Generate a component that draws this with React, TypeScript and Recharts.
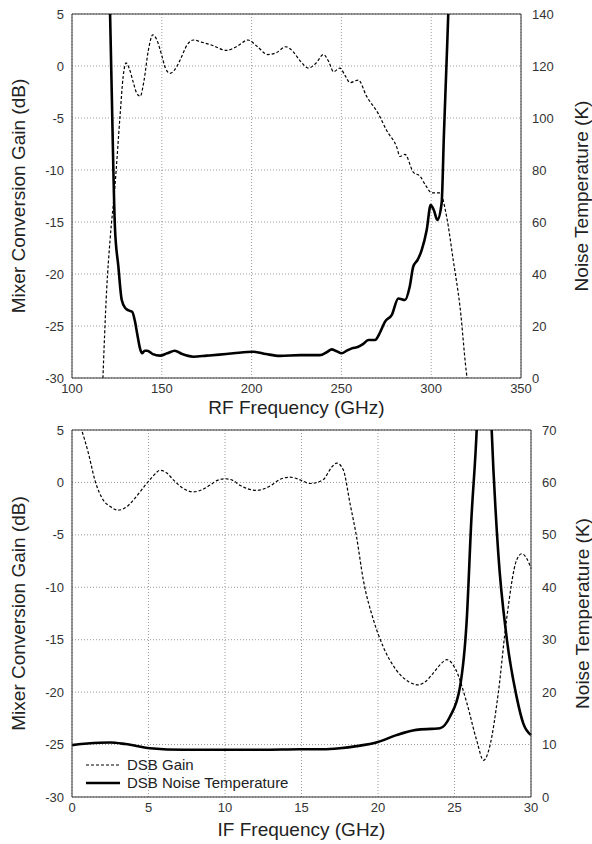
import React from 'react';
import { LineChart, Line, XAxis, YAxis, CartesianGrid, ReferenceLine, Label } from 'recharts';

// RF sweep (top panel)
const rfGainFreq = [117, 119.3, 121.2, 123.9, 126.7, 128.5, 130.1, 132, 134, 136, 138, 140, 142.5, 145, 147, 150, 152, 154.6, 157, 160, 164, 167.5, 172, 178, 186, 192, 198, 203, 209, 214, 219, 223, 227, 231.6, 236, 240, 243, 245.6, 249.2, 252, 254.8, 259.4, 264, 270.6, 275.2, 280.8, 282.6, 285.4, 290, 293.8, 297, 300.3, 304.9, 308.6, 312.3, 316, 320, 321];
const rfGainDb = [-31, -21.5, -16.7, -11.6, -4.9, -1, 0.3, -0.3, -1.5, -2.6, -2.9, -1.5, 1.5, 3.0, 2.6, 1.0, -0.2, -0.7, -0.4, 0.5, 2.0, 2.5, 2.3, 2.0, 1.5, 1.9, 2.5, 1.9, 1.1, 1.3, 1.85, 1.4, 0.5, -0.2, 0.3, 1.1, 0.4, -0.55, -0.2, -0.9, -1.6, -1.35, -2.9, -4.6, -6.2, -7.8, -8.7, -8.5, -10.2, -10.6, -11.5, -12.2, -12.2, -14.5, -18.7, -23.1, -30, -31];

const rfNoiseFreq = [119.5, 121.2, 123, 123.9, 125.8, 127.7, 129.8, 131.5, 133.5, 135, 136.3, 138, 139, 140.5, 141.9, 145, 149, 153, 157.3, 161, 167.5, 175, 182, 189.8, 200.9, 208, 215.8, 227, 238, 242, 244.6, 247, 250.2, 253, 255.8, 259.4, 262, 265, 268.7, 271.5, 274.3, 278, 281.7, 285.4, 288, 290, 292.5, 294.7, 297.5, 299.7, 301.5, 303.4, 305.8, 307.1, 308.6, 309.5, 310.5];
const rfNoiseK = [170, 140, 81, 58, 43, 30, 26.8, 26, 25.5, 22, 17, 11, 9.5, 10.5, 10.5, 9.2, 8.6, 9.5, 10.5, 9.3, 8.2, 8.6, 9.0, 9.5, 10.1, 9.2, 8.5, 8.8, 8.8, 10, 11, 10.4, 9.5, 10.5, 11.4, 12, 13, 14.6, 14.6, 17.5, 21.7, 24.2, 30.6, 30, 35, 42.8, 45.5, 49.2, 56.9, 66.5, 64.5, 60.8, 67.2, 94.1, 122.3, 140, 165];

// IF sweep (bottom panel)
const ifGainFreq = [0, 0.63, 1.07, 1.5, 2.05, 2.5, 3.03, 3.5, 4.0, 4.5, 4.88, 5.3, 5.75, 6.2, 6.62, 7.2, 7.93, 8.5, 9.02, 9.5, 10, 10.5, 11, 12.07, 13, 13.6, 14.25, 14.9, 15.56, 16.4, 17, 17.3, 17.73, 18.17, 18.6, 19.04, 19.7, 20.35, 21.2, 22, 22.63, 23.1, 23.6, 24.05, 24.5, 25.1, 25.8, 26.45, 26.9, 27.3, 27.86, 28.4, 29.06, 29.4, 29.7, 30];
const ifGainDb = [7.5, 5, 2.8, 0.2, -1.7, -2.3, -2.65, -2.4, -1.7, -0.8, -0.1, 0.6, 1.15, 0.9, 0.25, -0.5, -0.9, -0.7, -0.25, 0.2, 0.35, 0.2, -0.3, -0.75, -0.3, 0.3, 0.5, 0.25, -0.1, 0.25, 1.5, 1.85, 1.2, -2.0, -5.2, -9.3, -13.1, -15.7, -17.9, -19, -19.3, -19, -18.2, -17.4, -16.9, -17.9, -21, -24.6, -26.5, -25.2, -20.1, -13.1, -7.4, -6.8, -7.2, -8.2];

const ifNoiseFreq = [0, 1, 2.5, 3.5, 5.1, 7.3, 10, 12.5, 14.9, 16.4, 17.5, 18.6, 20, 21.2, 22.5, 23.5, 24.05, 24.7, 25.36, 25.8, 26.1, 26.45, 26.7, 27, 27.2, 27.43, 27.86, 28.4, 29.06, 29.5, 30];
const ifNoiseK = [9.9, 10.2, 10.4, 10.1, 9.3, 9.0, 9.0, 9.0, 9.1, 9.1, 9.3, 9.7, 10.5, 11.8, 12.8, 13.0, 13.1, 15.3, 21, 33.8, 52.8, 70, 90, 105, 90, 70, 46.5, 30.6, 19.1, 14, 11.8];

const rfTicks = [100, 150, 200, 250, 300, 350];
const ifTicks = [0, 5, 10, 15, 20, 25, 30];
const gainTicks = [-30, -25, -20, -15, -10, -5, 0, 5];
const rfNoiseTicks = [0, 20, 40, 60, 80, 100, 120, 140];
const ifNoiseTicks = [0, 10, 20, 30, 40, 50, 60, 70];

const zip = (fs: number[], vs: number[]) => fs.map((f, i) => ({ f, v: vs[i] }));

const FONT = '"Liberation Sans", Arial, sans-serif';
const INK = '#222';
const tickStyle = { fontSize: 13, fill: '#333', fontFamily: FONT };

const vLabel = (text: string, x: number) => (props: any) => {
    const vb = props.viewBox;
    const cy = vb.y + vb.height / 2;
    return (
        <text transform={`translate(${x}, ${cy}) rotate(-90)`} textAnchor="middle" dominantBaseline="central"
            style={{ fontSize: 19, fill: INK, fontFamily: FONT }}>{text}</text>
    );
};

const hLabel = (text: string, y: number) => (props: any) => {
    const vb = props.viewBox;
    return (
        <text x={vb.x + vb.width / 2} y={y} textAnchor="middle" style={{ fontSize: 19, fill: INK, fontFamily: FONT }}>{text}</text>
    );
};

const App = () => {
    const rfGain = zip(rfGainFreq, rfGainDb);
    const rfNoise = zip(rfNoiseFreq, rfNoiseK);
    const ifGain = zip(ifGainFreq, ifGainDb);
    const ifNoise = zip(ifNoiseFreq, ifNoiseK);

    return (
        <div style={{ position: 'absolute', left: 0, top: 0, width: 592, height: 844, background: '#fff', fontFamily: FONT }}>
            {/* RF frequency panel */}
            <div style={{ position: 'absolute', left: 0, top: 0 }}>
                <LineChart width={592} height={420} margin={{ top: 14, right: 0, bottom: 0, left: 0 }}>
                    <CartesianGrid yAxisId="left" strokeDasharray="1 2" stroke="#999" />
                    <XAxis dataKey="f" type="number" domain={[100, 350]} ticks={rfTicks} height={42}
                        tickLine={false} tickSize={4} axisLine={{ stroke: '#333' }} tick={tickStyle} allowDuplicatedCategory={false}>
                        <Label content={hLabel('RF Frequency (GHz)', 414)} />
                    </XAxis>
                    <YAxis yAxisId="left" domain={[-30, 5]} ticks={gainTicks} width={72} allowDataOverflow
                        tickLine={false} axisLine={{ stroke: '#333' }} tick={tickStyle}>
                        <Label content={vLabel('Mixer Conversion Gain (dB)', 18)} />
                    </YAxis>
                    <YAxis yAxisId="right" orientation="right" domain={[0, 140]} ticks={rfNoiseTicks} width={71} allowDataOverflow
                        tickLine={false} tickMargin={5} axisLine={{ stroke: '#333' }} tick={tickStyle}>
                        <Label content={vLabel('Noise Temperature (K)', 581)} />
                    </YAxis>
                    <ReferenceLine yAxisId="left" y={5} stroke="#333" />
                    <Line yAxisId="left" data={rfGain} dataKey="v" type="monotone" stroke="#000" strokeWidth={1.2}
                        strokeDasharray="3 2" dot={false} isAnimationActive={false} />
                    <Line yAxisId="right" data={rfNoise} dataKey="v" type="monotone" stroke="#000" strokeWidth={2.6}
                        dot={false} isAnimationActive={false} />
                </LineChart>
            </div>

            {/* IF frequency panel */}
            <div style={{ position: 'absolute', left: 0, top: 420 }}>
                <LineChart width={592} height={424} margin={{ top: 10, right: 0, bottom: 0, left: 0 }}>
                    <CartesianGrid yAxisId="left" strokeDasharray="1 2" stroke="#999" />
                    <XAxis dataKey="f" type="number" domain={[0, 30]} ticks={ifTicks} height={47}
                        tickLine={false} tickSize={4} axisLine={{ stroke: '#333' }} tick={tickStyle} allowDuplicatedCategory={false}>
                        <Label content={hLabel('IF Frequency (GHz)', 416)} />
                    </XAxis>
                    <YAxis yAxisId="left" domain={[-30, 5]} ticks={gainTicks} width={72} allowDataOverflow
                        tickLine={false} axisLine={{ stroke: '#333' }} tick={tickStyle}>
                        <Label content={vLabel('Mixer Conversion Gain (dB)', 18)} />
                    </YAxis>
                    <YAxis yAxisId="right" orientation="right" domain={[0, 70]} ticks={ifNoiseTicks} width={61} allowDataOverflow
                        tickLine={false} tickMargin={5} axisLine={{ stroke: '#333' }} tick={tickStyle}>
                        <Label content={vLabel('Noise Temperature (K)', 582)} />
                    </YAxis>
                    <ReferenceLine yAxisId="left" y={5} stroke="#333" />
                    <Line yAxisId="left" data={ifGain} dataKey="v" type="monotone" stroke="#000" strokeWidth={1.2}
                        strokeDasharray="3 2" dot={false} isAnimationActive={false} />
                    <Line yAxisId="right" data={ifNoise} dataKey="v" type="monotone" stroke="#000" strokeWidth={2.6}
                        dot={false} isAnimationActive={false} />
                </LineChart>
                <div style={{ position: 'absolute', left: 86, top: 336, fontSize: 15, color: INK, lineHeight: '18px' }}>
                    <div style={{ display: 'flex', alignItems: 'center' }}>
                        <svg width={34} height={10} style={{ marginRight: 7 }}>
                            <line x1={0} y1={5} x2={34} y2={5} stroke="#000" strokeWidth={1.2} strokeDasharray="3 2" />
                        </svg>
                        <span>DSB Gain</span>
                    </div>
                    <div style={{ display: 'flex', alignItems: 'center' }}>
                        <svg width={34} height={10} style={{ marginRight: 7 }}>
                            <line x1={0} y1={5} x2={34} y2={5} stroke="#000" strokeWidth={2.6} />
                        </svg>
                        <span>DSB Noise Temperature</span>
                    </div>
                </div>
            </div>
        </div>
    );
};

export default App;
